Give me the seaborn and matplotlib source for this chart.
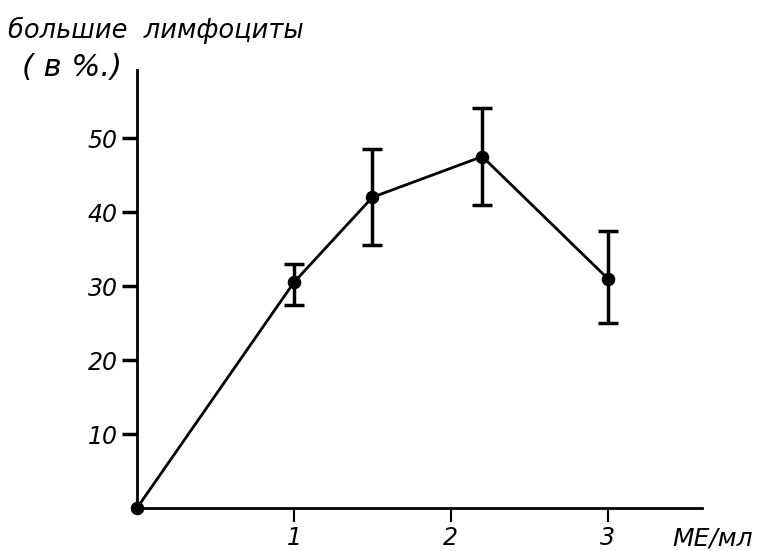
import matplotlib
matplotlib.use("Agg")
import matplotlib.pyplot as plt
import seaborn as sns
import pandas as pd

# Dose (МЕ/мл) and share of large lymphocytes (%)
dose = [0, 1, 1.5, 2.2, 3]
share = [0, 30.5, 42, 47.5, 31]
share_low = [0, 27.5, 35.5, 41, 25]
share_high = [0, 33, 48.5, 54, 37.5]

y_ticks = [10, 20, 30, 40, 50]
x_ticks = [1, 2, 3]

sns.set_theme(style="white")
plt.rcParams["font.family"] = ["DejaVu Sans"]
plt.rcParams["text.color"] = "black"
plt.rcParams["xtick.color"] = "black"
plt.rcParams["ytick.color"] = "black"

fig = plt.figure(figsize=(7.71, 5.51), dpi=100)
ax = fig.add_axes([137 / 771, 1 - 508 / 551, (702 - 137) / 771, (508 - 70) / 551])

df = pd.DataFrame({"dose": dose, "share": share})
sns.lineplot(data=df, x="dose", y="share", ax=ax, color="black", linewidth=2,
             marker="o", markersize=9, markeredgecolor="black", clip_on=False, zorder=3)

# error bars for the treated samples (first point has none)
err_x = dose[1:]
err_y = share[1:]
lo = [s - l for s, l in zip(share[1:], share_low[1:])]
hi = [h - s for s, h in zip(share[1:], share_high[1:])]
ax.errorbar(err_x, err_y, yerr=[lo, hi], fmt="none", ecolor="black",
            elinewidth=2.5, capsize=7, capthick=2.5, zorder=2)

ax.set_xlim(0, 3.6)
ax.set_ylim(0, 59.2)
ax.set_xticks(x_ticks)
ax.set_yticks(y_ticks)
ax.set_xticklabels([str(t) for t in x_ticks], fontsize=17, fontstyle="italic", color="black")
ax.set_yticklabels([str(t) for t in y_ticks], fontsize=17, fontstyle="italic", color="black")
ax.set_xlabel("")
ax.set_ylabel("")

for side in ["top", "right"]:
    ax.spines[side].set_visible(False)
for side in ["left", "bottom"]:
    ax.spines[side].set_color("black")
    ax.spines[side].set_linewidth(2)

ax.tick_params(axis="y", direction="out", length=11, width=2.5, color="black", pad=3, left=True)
ax.tick_params(axis="x", direction="out", length=10, width=1.5, color="black", pad=3, bottom=True)

fig.text(8 / 771, 1 - 30 / 551, "большие  лимфоциты", fontsize=18.5, fontstyle="italic",
         va="center", ha="left", color="black")
fig.text(22 / 771, 1 - 68 / 551, "( в %.)", fontsize=22, fontstyle="italic",
         va="center", ha="left", color="black")
fig.text(672 / 771, 1 - 538 / 551, "МЕ/мл", fontsize=18, fontstyle="italic",
         va="center", ha="left", color="black")

fig.savefig("out.png", dpi=100)
